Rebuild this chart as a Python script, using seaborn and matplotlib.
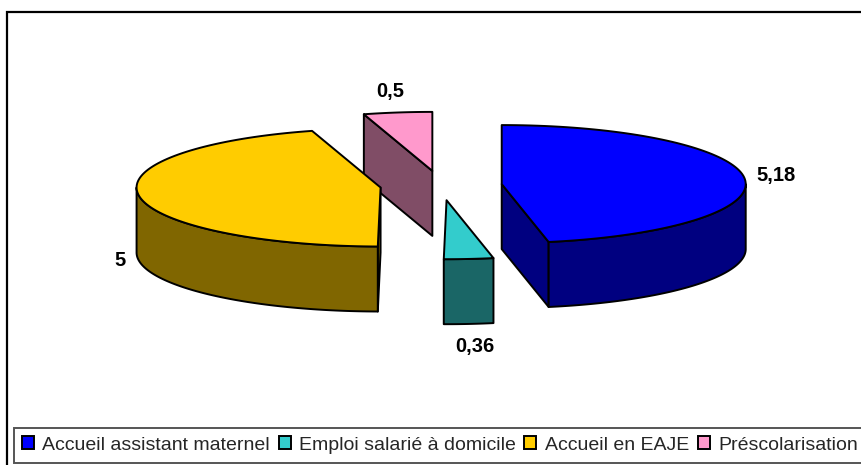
import numpy as np
import seaborn as sns
from matplotlib import pyplot as plt
from matplotlib.patches import Patch, Rectangle

categories = ["Accueil assistant maternel", "Emploi salarié à domicile", "Accueil en EAJE", "Préscolarisation"]
values = [5.18, 0.36, 5, 0.5]
colors = ["#0000FF", "#33CCCC", "#FFCC00", "#FF99CC"]
label_pos = [(776, 175), (475, 346), (120, 260), (390, 92)]

# pie geometry, in pixels of the figure
CX, CY = 441, 185.5
RX, RY = 244, 59
DEPTH = 65
EXPLODE = 0.25

sns.set_theme(style="white")
plt.rcParams['font.family'] = ['Liberation Sans', 'DejaVu Sans']
palette = sns.color_palette(colors)
dark = [tuple(c * 0.5 for c in col) for col in palette]

fig = plt.figure(figsize=(8.62, 4.65), dpi=100)
ax = fig.add_axes([0, 0, 1, 1])
ax.set_xlim(0, 862)
ax.set_ylim(465, 0)
ax.axis('off')

# chart frame, only the left and top show
ax.plot([7.5, 7.5, 862], [465, 12, 12], color='black', lw=1.6, solid_joinstyle='miter')


def rim(cx, cy, a, b):
    t = np.radians(np.linspace(a, b, 100))
    return cx + RX * np.sin(t), cy - RY * np.cos(t)


def wall(xs, ys, col):
    px = np.concatenate([xs, xs[::-1]])
    py = np.concatenate([ys, ys[::-1] + DEPTH])
    ax.fill(px, py, facecolor=col, edgecolor='black', lw=1.4, joinstyle='round')


edges = np.cumsum([0] + values) / sum(values) * 360

# back slices first so the front ones cover them
for i in [3, 2, 1, 0]:
    a, b = edges[i], edges[i + 1]
    mid = np.radians((a + b) / 2)
    cx = CX + EXPLODE * RX * np.sin(mid)
    cy = CY - EXPLODE * RY * np.cos(mid)

    if np.sin(np.radians(a)) < -0.001:
        x0, y0 = rim(cx, cy, a, a)
        wall(np.array([cx, x0[0]]), np.array([cy, y0[0]]), dark[i])
    if np.sin(np.radians(b)) > 0.001:
        x0, y0 = rim(cx, cy, b, b)
        wall(np.array([cx, x0[0]]), np.array([cy, y0[0]]), dark[i])
    lo, hi = max(a, 90), min(b, 270)
    if lo < hi:
        wall(*rim(cx, cy, lo, hi), dark[i])

    xs, ys = rim(cx, cy, a, b)
    ax.fill(np.r_[cx, xs], np.r_[cy, ys], facecolor=palette[i], edgecolor='black', lw=1.4, joinstyle='round')

for v, (x, y) in zip(values, label_pos):
    ax.text(x, y, f"{v:g}".replace('.', ','), ha='center', va='center',
            fontsize=14.5, fontweight='bold', color='black')

# legend box runs off the right edge
ax.add_patch(Rectangle((14.5, 428), 860, 35, facecolor='white', edgecolor='#555555', lw=1.4))
handles = [Patch(facecolor=c, edgecolor='black', lw=1.4) for c in palette]
ax.legend(handles, categories, ncol=4, frameon=False, loc='center left',
          bbox_to_anchor=(22 / 862, 1 - 445 / 465), borderaxespad=0, borderpad=0,
          fontsize=14, handlelength=0.62, handleheight=0.62,
          handletextpad=0.42, columnspacing=0.45)

plt.savefig("out.png", dpi=100)
